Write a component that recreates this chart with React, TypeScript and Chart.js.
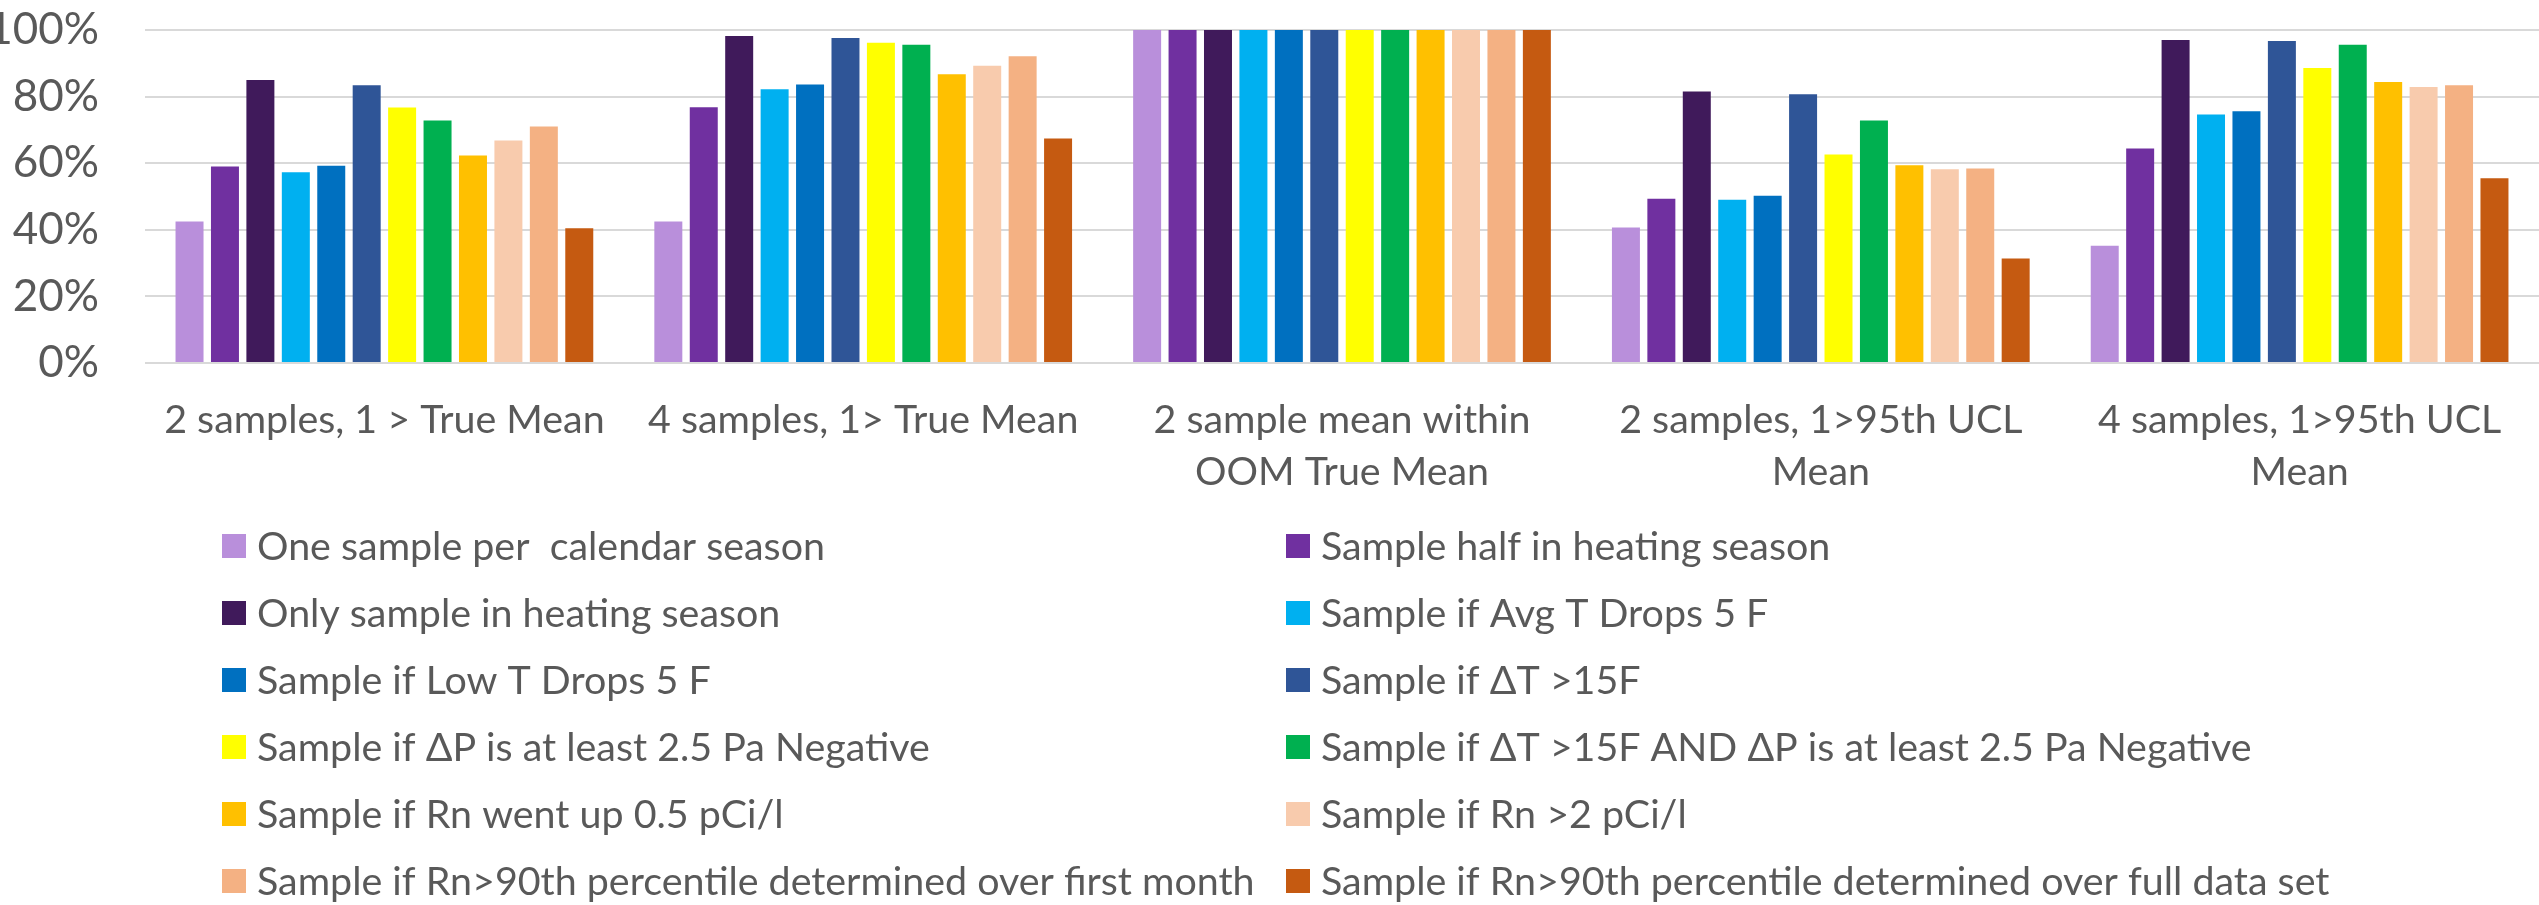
import React, { useEffect, useRef } from "react";
import { Chart, registerables } from "chart.js";

Chart.register(...registerables);

// ---------- data ----------
const categories: (string | string[])[] = [
  "2 samples, 1 > True Mean",
  "4 samples, 1> True Mean",
  ["2 sample mean within", "OOM True Mean"],
  ["2 samples, 1>95th UCL", "Mean"],
  ["4 samples, 1>95th UCL", "Mean"],
];

const seriesNames = [
  "One sample per  calendar season",
  "Sample half in heating season",
  "Only sample in heating season",
  "Sample if Avg T Drops 5 F",
  "Sample if Low T Drops 5 F",
  "Sample if \u0394T >15F",
  "Sample if \u0394P is at least 2.5 Pa Negative",
  "Sample if \u0394T >15F AND \u0394P is at least 2.5 Pa Negative",
  "Sample if Rn went up 0.5 pCi/l",
  "Sample if Rn >2 pCi/l",
  "Sample if Rn>90th percentile determined over first month",
  "Sample if Rn>90th percentile determined over full data set",
];

const seriesColors = [
  "#B98FDB",
  "#7030A0",
  "#401A5B",
  "#00B0F0",
  "#0070C0",
  "#2F5597",
  "#FFFF00",
  "#00B050",
  "#FFC000",
  "#F8CBAD",
  "#F4B183",
  "#C55A11",
];

const oneSamplePerSeason = [0.425, 0.425, 1.0, 0.407, 0.352];
const halfInHeating = [0.59, 0.768, 1.0, 0.493, 0.644];
const onlyInHeating = [0.85, 0.982, 1.0, 0.815, 0.97];
const avgTDrops = [0.573, 0.822, 1.0, 0.49, 0.746];
const lowTDrops = [0.592, 0.836, 1.0, 0.502, 0.756];
const deltaT15 = [0.834, 0.976, 1.0, 0.807, 0.967];
const deltaP25 = [0.767, 0.962, 1.0, 0.626, 0.886];
const deltaTandP = [0.728, 0.956, 1.0, 0.728, 0.956];
const rnUp05 = [0.623, 0.867, 1.0, 0.594, 0.844];
const rnOver2 = [0.668, 0.893, 1.0, 0.582, 0.829];
const rn90First = [0.71, 0.921, 1.0, 0.584, 0.834];
const rn90Full = [0.405, 0.674, 1.0, 0.314, 0.555];

const seriesValues = [
  oneSamplePerSeason,
  halfInHeating,
  onlyInHeating,
  avgTDrops,
  lowTDrops,
  deltaT15,
  deltaP25,
  deltaTandP,
  rnUp05,
  rnOver2,
  rn90First,
  rn90Full,
];

const yMin = 0;
const yMax = 1;
const yStep = 0.2;

// ---------- styling ----------
const W = 2539;
const H = 905;
const FONT = "Lato, 'Open Sans', sans-serif";
const TEXT = "#595959";

const twoColumnLegend = {
  id: "twoColumnLegend",
  afterDraw(chart: any) {
    const ctx = chart.ctx;
    ctx.save();
    ctx.font = `39.4px ${FONT}`;
    ctx.textBaseline = "middle";
    ctx.textAlign = "left";
    chart.data.datasets.forEach((ds: any, i: number) => {
      const col = i % 2;
      const row = Math.floor(i / 2);
      const x = col === 0 ? 222 : 1286;
      const y = 546 + row * 67;
      ctx.fillStyle = ds.backgroundColor;
      ctx.fillRect(x, y - 12, 24, 24);
      ctx.fillStyle = TEXT;
      ctx.fillText(ds.label, x + 35, y + 1);
    });
    ctx.restore();
  },
};

export default function App() {
  const ref = useRef<HTMLCanvasElement | null>(null);

  useEffect(() => {
    if (!ref.current) return;
    const chart = new Chart(ref.current, {
      type: "bar",
      data: {
        labels: categories,
        datasets: seriesNames.map((name, i) => ({
          label: name,
          data: seriesValues[i],
          backgroundColor: seriesColors[i],
          borderWidth: 0,
          categoryPercentage: 0.888,
          barPercentage: 0.79,
        })),
      },
      options: {
        responsive: false,
        animation: false,
        layout: { padding: { top: 30, left: 0, right: 0, bottom: 0 } },
        plugins: {
          legend: { display: false },
          tooltip: { enabled: false },
        },
        scales: {
          x: {
            grid: { display: false, drawTicks: false },
            border: { display: false },
            ticks: {
              color: TEXT,
              font: { family: FONT, size: 39.4, lineHeight: 1.32 },
              padding: 31,
              maxRotation: 0,
              autoSkip: false,
            },
            afterFit: (s: any) => {
              s.height = H - 363;
            },
          },
          y: {
            min: yMin,
            max: yMax,
            ticks: {
              stepSize: yStep,
              color: TEXT,
              font: { family: FONT, size: 44 },
              padding: 46,
              callback: (v: any) => Math.round(Number(v) * 100) + "%",
            },
            grid: { color: "#D9D9D9", lineWidth: 2, drawTicks: false },
            border: { display: false },
            afterFit: (s: any) => {
              s.width = 145;
              s.paddingTop = 0;
              s.paddingBottom = 0;
            },
          },
        },
      },
      plugins: [twoColumnLegend],
    });
    return () => chart.destroy();
  }, []);

  return (
    <div
      style={{
        position: "fixed",
        left: 0,
        top: 0,
        width: W,
        height: H,
        background: "#fff",
      }}
    >
      <canvas ref={ref} width={W} height={H} />
    </div>
  );
}
